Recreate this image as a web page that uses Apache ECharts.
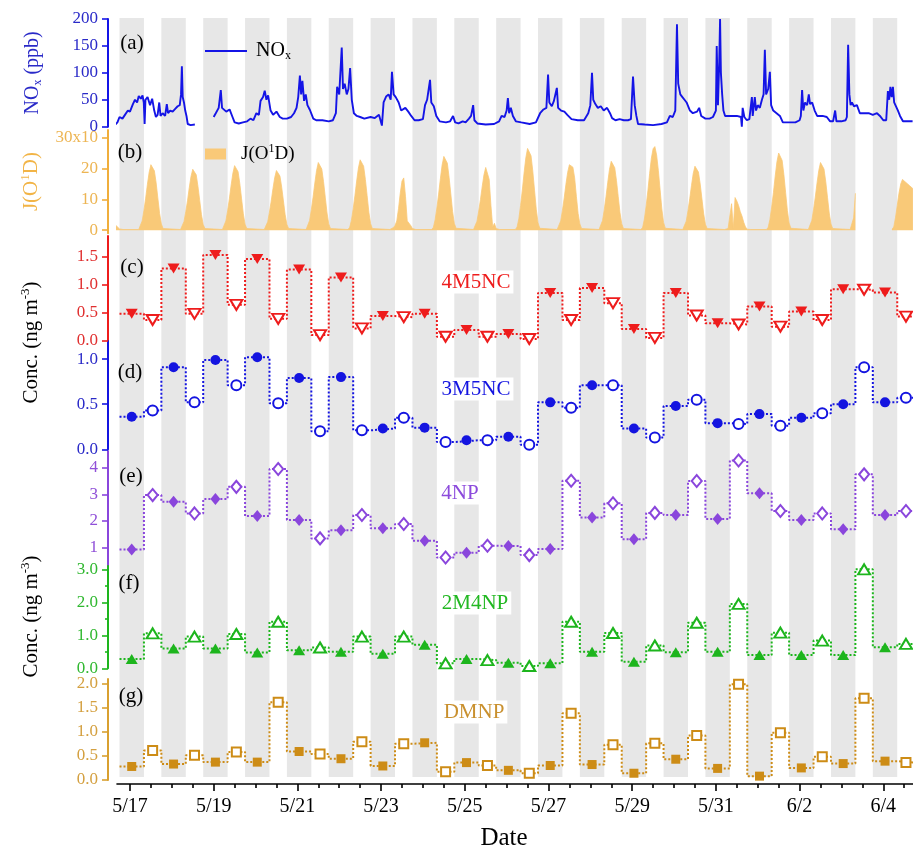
<!DOCTYPE html>
<html><head><meta charset="utf-8">
<script src="https://cdn.jsdelivr.net/npm/echarts@6/dist/echarts.min.js"></script>
<style>html,body{margin:0;padding:0;background:#fff}#c{width:913px;height:852px}</style>
</head><body><div id="c"></div>
<script>
// ---------------- DATA ----------------
const dates = ['5/17','5/18','5/19','5/20','5/21','5/22','5/23','5/24','5/25','5/26','5/27','5/28','5/29','5/30','5/31','6/1','6/2','6/3','6/4'];
const xTickLabels = ['5/17','5/19','5/21','5/23','5/25','5/27','5/29','5/31','6/2','6/4'];

// night (18:00-08:00, filled) and day (08:00-18:00, open) samples, ng m-3
const m4M5NC_night = [0.48,1.29,1.53,1.46,1.27,1.13,0.44,0.48,0.19,0.12,0.85,0.94,0.21,0.85,0.31,0.61,0.52,0.92,0.86];
const m4M5NC_day   = [0.37,0.48,0.64,0.39,0.10,0.22,0.42,0.07,0.07,0.03,0.37,0.67,0.05,0.45,0.29,0.25,0.37,0.91,0.43];
const m3M5NC_night = [0.36,0.91,0.99,1.02,0.79,0.80,0.23,0.24,0.10,0.14,0.52,0.71,0.23,0.48,0.29,0.39,0.35,0.50,0.52];
const m3M5NC_day   = [0.43,0.52,0.71,0.51,0.20,0.21,0.35,0.08,0.10,0.05,0.46,0.71,0.13,0.55,0.28,0.26,0.40,0.91,0.57];
const m4NP_night   = [0.92,2.72,2.82,2.18,2.03,1.65,1.72,1.25,0.80,1.05,0.94,2.13,1.31,2.22,2.07,3.04,2.03,1.68,2.22];
const m4NP_day     = [2.97,2.28,3.28,3.95,1.34,2.22,1.88,0.62,1.06,0.71,3.51,2.66,2.30,3.50,4.27,2.37,2.28,3.75,2.37];
const m2M4NP_night = [0.28,0.60,0.60,0.48,0.55,0.50,0.44,0.71,0.28,0.17,0.15,0.50,0.20,0.49,0.50,0.40,0.40,0.40,0.64];
const m2M4NP_day   = [1.06,0.96,1.04,1.41,0.63,0.96,0.96,0.15,0.25,0.07,1.41,1.07,0.69,1.38,1.95,1.08,0.84,3.00,0.74];
const mDMNP_night  = [0.28,0.33,0.37,0.37,0.59,0.44,0.29,0.77,0.36,0.20,0.30,0.32,0.14,0.43,0.24,0.08,0.25,0.34,0.39];
const mDMNP_day    = [0.61,0.51,0.58,1.61,0.54,0.79,0.75,0.17,0.30,0.14,1.38,0.73,0.76,0.92,1.98,0.98,0.48,1.69,0.36];

// NOx (ppb): [days since 5/17 00:00, value]
const noxPoints = [
[-0.36,3],[-0.30,8],[-0.25,18],[-0.18,15],[-0.12,22],[-0.05,30],[0.0,28],[0.07,42],[0.12,50],[0.17,45],[0.21,57],[0.26,52],[0.30,58],[0.33,45],[0.35,5],[0.37,50],[0.42,55],[0.48,40],[0.53,52],[0.58,30],[0.62,18],[0.66,22],[0.70,45],[0.73,20],[0.78,25],[0.84,20],[0.88,42],[0.91,25],[0.96,30],
[1.02,28],[1.08,33],[1.14,38],[1.19,40],[1.22,60],[1.24,112],[1.26,55],[1.29,45],[1.32,30],[1.35,20],[1.38,5],[1.45,3],[1.55,4],[1.6,null],
[2.0,18],[2.05,25],[2.12,35],[2.17,68],[2.2,35],[2.3,28],[2.38,32],[2.45,18],[2.5,8],[2.6,6],[2.7,8],[2.8,10],[2.88,15],[2.95,12],
[3.02,25],[3.08,22],[3.12,48],[3.18,55],[3.22,67],[3.26,50],[3.3,58],[3.36,30],[3.42,22],[3.5,28],[3.58,18],[3.65,15],[3.75,15],[3.85,18],[3.92,25],[3.98,35],
[4.02,55],[4.06,95],[4.09,60],[4.12,85],[4.16,48],[4.2,60],[4.24,40],[4.3,31],[4.38,15],[4.45,12],[4.6,12],[4.75,10],[4.85,12],[4.92,25],[4.95,74],
[5.0,60],[5.06,147],[5.09,70],[5.13,80],[5.18,60],[5.22,70],[5.26,109],[5.3,50],[5.35,25],[5.42,20],[5.5,18],[5.6,15],[5.75,18],[5.85,16],[5.95,22],
[6.02,2],[6.06,45],[6.12,56],[6.18,60],[6.23,50],[6.26,102],[6.3,60],[6.35,55],[6.42,45],[6.48,30],[6.58,35],[6.65,28],[6.72,20],[6.8,12],[6.9,12],
[7.0,14],[7.05,40],[7.1,50],[7.17,87],[7.2,45],[7.26,38],[7.32,20],[7.4,10],[7.55,8],[7.65,10],[7.72,20],[7.77,8],[7.85,6],[7.95,10],
[8.02,8],[8.1,15],[8.15,20],[8.2,40],[8.23,12],[8.3,6],[8.5,4],[8.7,5],[8.82,10],[8.88,20],[8.95,18],
[9.0,30],[9.03,53],[9.06,25],[9.1,35],[9.15,20],[9.22,10],[9.35,8],[9.55,5],[9.7,8],[9.8,25],[9.88,32],[9.95,35],[9.99,97],
[10.02,45],[10.08,38],[10.13,48],[10.2,72],[10.23,35],[10.3,30],[10.38,28],[10.45,22],[10.55,14],[10.7,12],[10.85,12],[10.95,25],
[11.0,40],[11.04,100],[11.07,50],[11.12,42],[11.18,35],[11.25,38],[11.32,30],[11.4,35],[11.47,25],[11.52,16],[11.6,12],[11.7,14],[11.8,12],[11.9,12],[11.97,14],
[12.02,93],[12.06,40],[12.1,20],[12.14,5],[12.3,4],[12.5,3],[12.7,5],[12.83,8],[12.9,20],[12.97,18],
[13.03,30],[13.07,190],[13.1,80],[13.15,60],[13.2,55],[13.25,50],[13.3,45],[13.38,30],[13.45,25],[13.55,28],[13.6,35],[13.65,20],[13.75,15],[13.85,15],[13.93,18],
[14.0,30],[14.02,150],[14.05,40],[14.08,120],[14.1,200],[14.12,100],[14.15,60],[14.18,30],[14.22,20],[14.35,20],[14.5,20],[14.6,18],[14.62,0],[14.64,35],[14.68,18],[14.74,12],[14.8,14],[14.86,55],[14.88,20],[14.93,55],[14.96,30],
[15.0,40],[15.05,35],[15.1,50],[15.14,60],[15.17,143],[15.2,60],[15.25,70],[15.29,102],[15.32,40],[15.37,30],[15.45,25],[15.53,20],[15.6,8],[15.75,8],[15.9,8],
[16.0,12],[16.03,20],[16.06,68],[16.09,30],[16.13,45],[16.18,40],[16.22,60],[16.25,42],[16.3,45],[16.36,30],[16.42,20],[16.55,20],[16.65,18],[16.73,10],[16.8,10],[16.85,30],[16.88,10],
[17.0,10],[17.1,12],[17.13,18],[17.16,152],[17.19,60],[17.22,40],[17.25,45],[17.3,38],[17.37,40],[17.44,25],[17.55,25],[17.65,25],[17.75,22],[17.85,25],[17.92,20],
[18.0,12],[18.07,12],[18.11,66],[18.14,50],[18.17,74],[18.2,55],[18.23,74],[18.26,45],[18.3,48],[18.35,30],[18.4,20],[18.47,10],[18.6,10],[18.7,10]
];

// J(O1D) (x10^-6 s-1), hourly from 05:00 to 20:00 for each date
const jDates = ['5/16','5/17','5/18','5/19','5/20','5/21','5/22','5/23','5/24','5/25','5/26','5/27','5/28','5/29','5/30','5/31','6/1','6/2','6/3','6/4'];
const jHourly = [
[null,null,null,null,null,null,null,null,null,null,null,1.5,1.0,0.4,0.2,0.2],
[0.2,0.8,3.0,6.4,10.4,14.9,18.8,21.3,21.8,19.3,15.4,10.4,5.4,2.0,0.5,0.2],
[0.2,0.7,2.8,6.0,9.6,13.8,17.5,19.8,20.2,18.0,14.2,9.6,5.0,1.8,0.5,0.2],
[0.2,0.8,3.0,6.3,10.2,14.6,18.5,21.0,21.4,19.0,15.1,10.2,5.3,1.9,0.5,0.2],
[0.2,0.7,2.7,5.9,9.5,13.5,17.1,19.4,19.8,17.6,14.0,9.5,5.0,1.8,0.5,0.2],
[0.2,0.8,3.1,6.6,10.7,15.3,19.4,22.0,22.4,19.9,15.8,10.7,5.6,2.0,0.5,0.2],
[0.2,0.9,3.2,6.9,11.2,16.0,20.2,22.9,23.4,20.8,16.5,11.2,5.8,2.1,0.5,0.2],
[0.2,0.3,0.8,1.5,3.0,7.0,12.0,16.0,17.0,11.0,3.0,2.6,1.5,0.5,0.2,0.2],
[0.2,0.9,3.4,7.2,11.7,16.7,21.2,24.0,24.5,21.8,17.2,11.7,6.1,2.2,0.6,0.2],
[0.2,0.8,2.9,6.2,10.0,14.2,18.0,20.4,20.8,16.5,8.0,1.0,2.2,0.5,0.3,0.2],
[0.2,1.0,3.7,8.0,13.0,18.6,23.5,26.6,27.2,24.2,19.2,13.0,6.8,2.4,0.6,0.2],
[0.2,0.8,3.0,6.4,10.4,14.9,18.8,21.3,21.8,20.5,17.0,11.0,5.4,2.0,0.5,0.2],
[0.2,0.8,3.1,6.7,10.9,15.6,19.8,22.4,22.9,20.3,16.1,10.9,5.7,2.1,0.5,0.2],
[0.2,0.9,3.6,7.8,12.8,18.4,23.4,26.5,27.2,24.5,19.5,13.2,6.9,2.5,0.6,0.2],
[0.2,0.8,2.9,6.3,10.2,14.5,18.4,20.8,21.3,18.9,15.0,10.2,5.3,1.9,0.5,0.2],
[0.2,0.3,0.5,0.8,8.6,0.5,10.6,9.5,8.0,6.0,4.5,2.5,1.0,0.3,0.2,0.2],
[0.2,0.9,3.5,7.5,12.2,17.5,22.2,25.1,25.6,22.7,18.0,12.2,6.4,2.3,0.6,0.2],
[0.2,0.8,3.1,6.6,10.7,15.3,19.4,22.0,22.4,19.9,15.8,10.7,5.6,2.0,0.5,0.2],
[0.2,0.5,4.0,12.0,null,null,null,null,null,null,null,null,null,null,null,null],
[0.3,1.0,4.0,8.0,12.0,15.0,16.5,16.3,15.5,15.0,14.5,14.0,13.5,null,null,null]
];

const noxTicks = [0,50,100,150,200];
const jTicks = [0,10,20,30];
const cTicks = [0,0.5,1.0,1.5];
const dTicks = [0,0.5,1.0];
const eTicks = [1,2,3,4];
const fTicks = [0,1,2,3];
const fMinorTicks = [0.5,1.5,2.5];
const gTicks = [0,0.5,1.0,1.5,2.0];

// ---------------- HELPERS ----------------
const SERIF = '"Liberation Serif","Times New Roman",serif';
function dayOffset(md){ const p = md.split('/').map(Number); return p[0]===5 ? p[1]-17 : p[1]+14; }
const xMin = -0.31, xMax = 18.71;

const C_NOX='#1414E6', C_J='#F9C978', C_JAX='#F0AE3C', C_RED='#EE1C1C', C_BLUE='#1414E0', C_PUR='#8A46DC', C_GRN='#1DB51D', C_BRN='#CD8C16';

function stepData(night, day){
  const out=[];
  dates.forEach((d,i)=>{ const t=dayOffset(d);
    out.push([t-0.25, night[i]],[t+1/3, night[i]],[t+1/3, day[i]],[t+0.75, day[i]]); });
  return out;
}
function markerData(vals, hour){ return dates.map((d,i)=>[dayOffset(d)+hour/24, vals[i]]); }

const grids = [
  {left:117,right:0,top:18,height:759},     //0 background bands
  {left:117,right:0,top:19,height:107.7},   //1 (a)
  {left:117,right:0,top:130,height:103.2},  //2 (b)
  {left:117,right:0,top:236,height:104.7},  //3 (c)
  {left:117,right:0,top:341,height:108.3},  //4 (d)
  {left:117,right:0,top:451,height:115},    //5 (e)
  {left:117,right:0,top:566,height:102.3},  //6 (f)
  {left:117,right:0,top:679,height:102.8},  //7 (g)
  {left:117,right:0,top:236,height:213},    //8 title c-d
  {left:117,right:0,top:451,height:331}     //9 title e-g
];

const xAxes = grids.map((g,i)=>({gridIndex:i,type:'value',min:xMin,max:xMax,show:false}));
const majorX = xTickLabels.map(dayOffset);
const minorX = []; for (let k=1;k<=37;k++){ const v=k*0.5; if (majorX.indexOf(v)<0) minorX.push(v); }
xAxes[7] = {gridIndex:7,type:'value',min:xMin,max:xMax,offset:4,position:'bottom',
  axisLine:{show:true,onZero:false,lineStyle:{color:'#000',width:1.6}},
  axisTick:{show:true,length:7,customValues:majorX,lineStyle:{color:'#000',width:1.6}},
  axisLabel:{customValues:majorX,margin:13,color:'#000',fontFamily:SERIF,fontSize:20,
    formatter:v=>xTickLabels[majorX.indexOf(Math.round(v*100)/100)] || ''},
  splitLine:{show:false},
  name:'Date',nameLocation:'middle',nameGap:42,
  nameTextStyle:{color:'#000',fontFamily:SERIF,fontSize:25,padding:[0,22,0,0]}};
xAxes.push({gridIndex:7,type:'value',min:xMin,max:xMax,offset:4,position:'bottom',
  axisLine:{show:false,onZero:false},axisLabel:{show:false},splitLine:{show:false},
  axisTick:{show:true,length:4,customValues:minorX,lineStyle:{color:'#000',width:1.6}}});

function yAx(gi,min,max,color,labelColor,ticks,fmt,extra){
  return Object.assign({gridIndex:gi,type:'value',min:min,max:max,offset:9,position:'left',
    axisLine:{show:true,onZero:false,lineStyle:{color:color,width:2}},
    axisTick:{show:true,length:6,customValues:ticks,lineStyle:{color:color,width:1.6}},
    axisLabel:{customValues:ticks,color:labelColor,fontFamily:SERIF,fontSize:17,margin:10,formatter:fmt},
    splitLine:{show:false}}, extra||{});
}
const f1 = v=>v.toFixed(1), f0 = v=>String(Math.round(v));
const supRich = (color,size)=>({
  a:{color:color,fontFamily:SERIF,fontSize:size},
  s:{color:color,fontFamily:SERIF,fontSize:Math.round(size*0.62),padding:[0,0,Math.round(size*0.55),0]},
  b:{color:color,fontFamily:SERIF,fontSize:Math.round(size*0.62),padding:[Math.round(size*0.5),0,0,0]}
});

const yAxes = [
  {gridIndex:0,type:'value',min:0,max:1,show:false},
  yAx(1,0,200,C_NOX,'#2A2AC8',noxTicks,f0,{name:'{a|NO}{b|x}{a| (ppb)}',nameLocation:'middle',nameRotate:90,nameGap:64,nameTextStyle:{rich:supRich('#2A2AC8',20)}}),
  yAx(2,-1,32.6,C_JAX,'#EDB553',jTicks,v=>v===30?'30x10':f0(v),{name:'{a|J(O}{s|1}{a|D)}',nameLocation:'middle',nameRotate:90,nameGap:64,nameTextStyle:{rich:supRich('#F2B446',21)}}),
  yAx(3,0,1.87,C_RED,'#E03030',cTicks,f1),
  yAx(4,0,1.2,C_BLUE,'#2A2AC8',dTicks,f1),
  yAx(5,0.3,4.63,C_PUR,'#9050D8',eTicks,f0),
  yAx(6,0,3.1,C_GRN,'#30B830',fTicks,f1),
  yAx(7,0,2.09,'#D9A030','#D4A040',gTicks,f1),
  {gridIndex:8,type:'value',min:0,max:1,axisLine:{show:false,onZero:false},axisTick:{show:false},axisLabel:{show:false},splitLine:{show:false},
   name:'{a|Conc. (ng m}{s|-3}{a|)}',nameLocation:'middle',nameRotate:90,nameGap:73,nameTextStyle:{rich:supRich('#000',21)}},
  {gridIndex:9,type:'value',min:0,max:1,axisLine:{show:false,onZero:false},axisTick:{show:false},axisLabel:{show:false},splitLine:{show:false},
   name:'{a|Conc. (ng m}{s|-3}{a|)}',nameLocation:'middle',nameRotate:90,nameGap:73,nameTextStyle:{rich:supRich('#000',21)}},
  {gridIndex:6,type:'value',min:0,max:3.1,offset:9,position:'left',axisLine:{show:false,onZero:false},axisLabel:{show:false},splitLine:{show:false},
   axisTick:{show:true,length:3,customValues:fMinorTicks,lineStyle:{color:C_GRN,width:1.6}}}
];

// background night bands (18:00 - 08:00)
const bands = dates.map(d=>[{xAxis:dayOffset(d)-0.25},{xAxis:dayOffset(d)+1/3}]);

const jData = [];
jDates.forEach((d,i)=>{ const t=dayOffset(d); jHourly[i].forEach((v,k)=>jData.push([t+(5+k)/24, v==null?'-':v])); });
const noxData = noxPoints.map(p=>[p[0], p[1]==null?'-':p[1]]);

const compounds = [
  {night:m4M5NC_night,day:m4M5NC_day,grid:3,color:C_RED,symbol:'triangle',rot:180,size:[12,10]},
  {night:m3M5NC_night,day:m3M5NC_day,grid:4,color:C_BLUE,symbol:'circle',rot:0,size:10},
  {night:m4NP_night,day:m4NP_day,grid:5,color:C_PUR,symbol:'diamond',rot:0,size:[10,12]},
  {night:m2M4NP_night,day:m2M4NP_day,grid:6,color:C_GRN,symbol:'triangle',rot:0,size:[12,10]},
  {night:mDMNP_night,day:mDMNP_day,grid:7,color:C_BRN,symbol:'rect',rot:0,size:9}
];

const series = [
  {type:'line',xAxisIndex:0,yAxisIndex:0,data:[[xMin,0],[xMax,0]],symbol:'none',lineStyle:{opacity:0},silent:true,z:0,
   markArea:{silent:true,itemStyle:{color:'#E7E7E7'},data:bands}},
  {name:'NOx',type:'line',xAxisIndex:1,yAxisIndex:1,data:noxData,symbol:'none',connectNulls:false,
   lineStyle:{color:C_NOX,width:1.9},itemStyle:{color:C_NOX},z:3},
  {name:'J(O1D)',type:'line',xAxisIndex:2,yAxisIndex:2,data:jData,symbol:'none',connectNulls:false,
   lineStyle:{color:C_J,width:0.8},itemStyle:{color:C_J},areaStyle:{color:C_J,opacity:1},z:3}
];
compounds.forEach(c=>{
  series.push({type:'line',xAxisIndex:c.grid,yAxisIndex:c.grid,data:stepData(c.night,c.day),symbol:'none',
    lineStyle:{color:c.color,width:2,type:[2,2]},z:3});
  series.push({type:'scatter',xAxisIndex:c.grid,yAxisIndex:c.grid,data:markerData(c.night,1),symbol:c.symbol,
    symbolRotate:c.rot,symbolSize:c.size,itemStyle:{color:c.color,opacity:1},z:5});
  series.push({type:'scatter',xAxisIndex:c.grid,yAxisIndex:c.grid,data:markerData(c.day,13),symbol:c.symbol,
    symbolRotate:c.rot,symbolSize:c.size,itemStyle:{color:'#fff',borderColor:c.color,borderWidth:2,opacity:1},z:5});
});

const panelLabels = [['(a)',132,43],['(b)',130,152],['(c)',132,267],['(d)',130,372],['(e)',131,476],['(f)',129,583],['(g)',131,696]];
const nameLabels = [['4M5NC',476,282,C_RED],['3M5NC',476,389,C_BLUE],['4NP',460,493,'#8C4ADC'],['2M4NP',475,603,'#22B822'],['DMNP',474,712,'#C9902E']];
const graphics = [];
panelLabels.forEach(p=>graphics.push({type:'text',x:p[1],y:p[2],z:10,silent:true,
  style:{text:p[0],fill:'#000',font:'21px '+SERIF,textAlign:'center',textVerticalAlign:'middle',verticalAlign:'middle'}}));
nameLabels.forEach(p=>graphics.push({type:'text',x:p[1],y:p[2],z:10,silent:true,
  style:{text:p[0],fill:p[3],font:'21px '+SERIF,textAlign:'center',textVerticalAlign:'middle',verticalAlign:'middle',backgroundColor:'#fff',padding:[1,3]}}));

const chart = echarts.init(document.getElementById('c'),null,{renderer:'canvas'});
chart.setOption({
  animation:false,
  backgroundColor:'#fff',
  grid:grids,
  xAxis:xAxes,
  yAxis:yAxes,
  legend:[
    {data:['NOx'],left:205,top:41,itemWidth:42,itemHeight:2,icon:'rect',padding:0,itemStyle:{color:C_NOX},
     formatter:()=>'{a|NO}{b|x}',textStyle:{padding:[0,0,0,4],rich:supRich('#000',20)}},
    {data:['J(O1D)'],left:205,top:143,itemWidth:21,itemHeight:11,icon:'rect',padding:0,
     formatter:()=>'{a|J(O}{s|1}{a|D)}',textStyle:{padding:[0,0,0,10],rich:supRich('#000',19)}}
  ],
  graphic:graphics,
  series:series
});
</script></body></html>
